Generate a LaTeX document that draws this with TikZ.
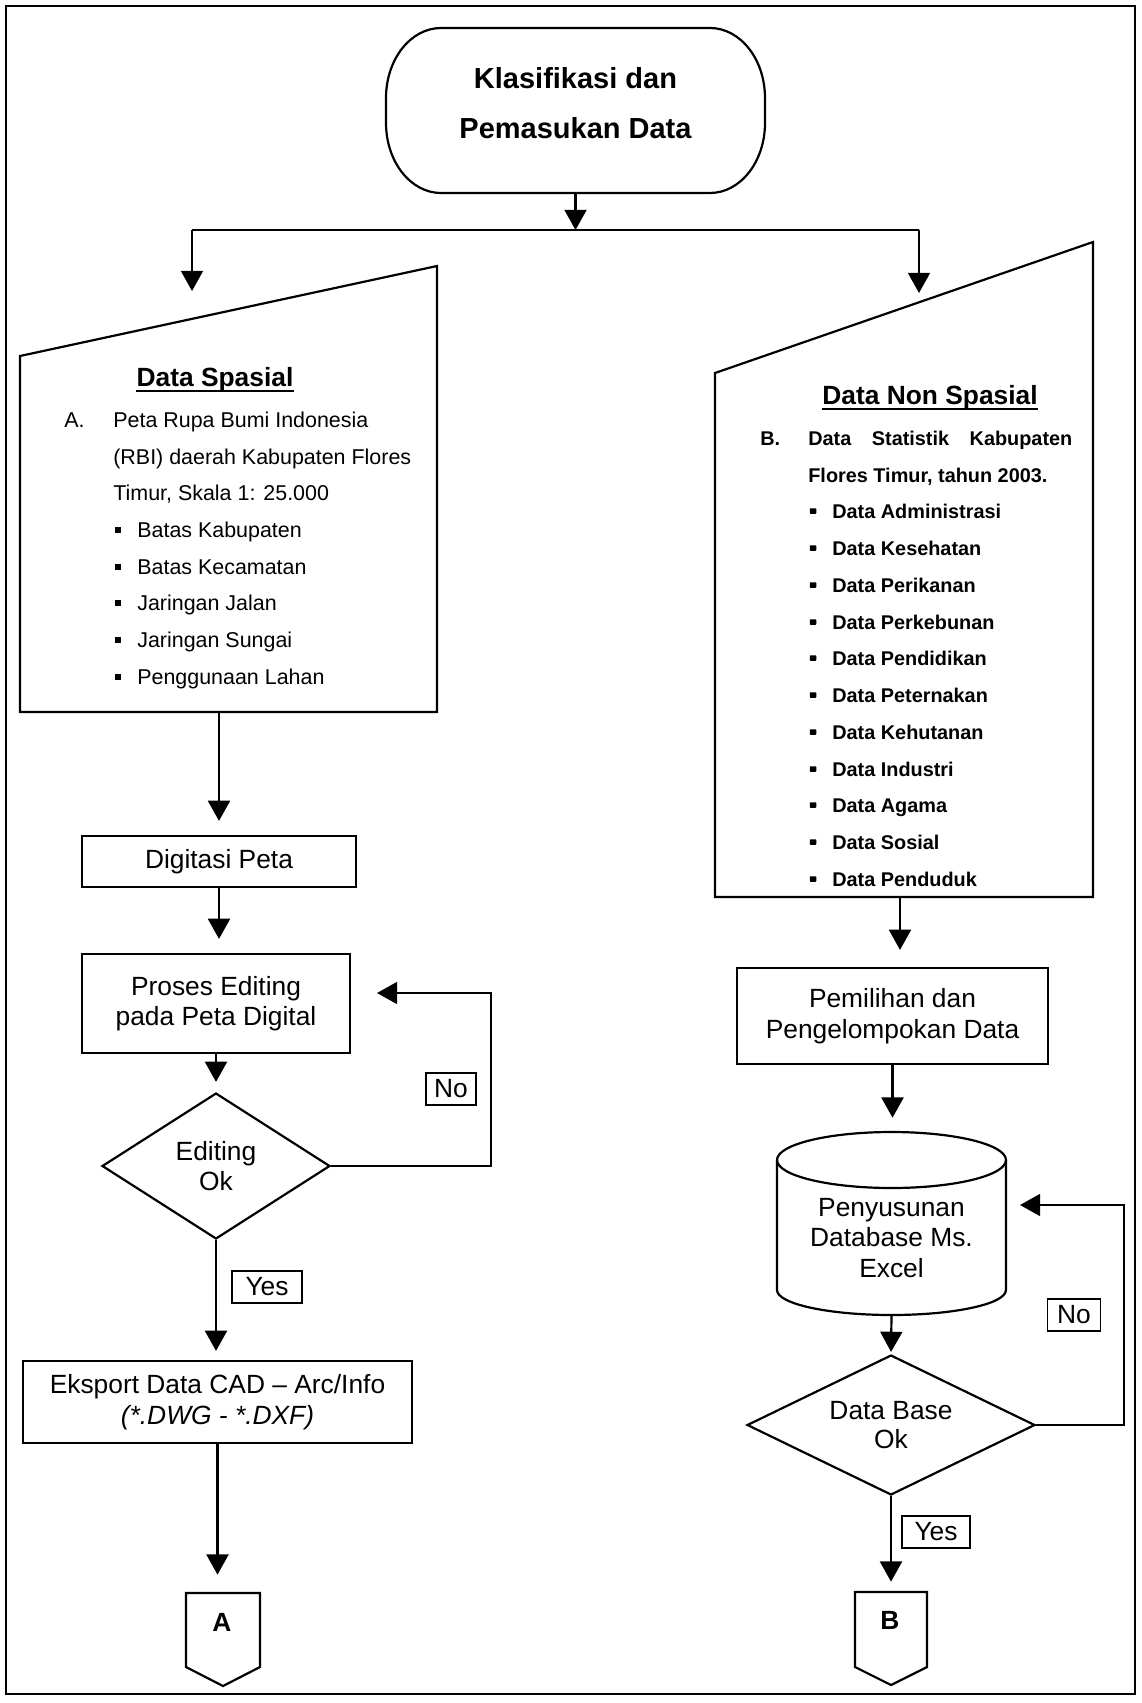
\documentclass[tikz,border=0pt]{standalone}
\usepackage{fontspec}
\setmainfont{Liberation Sans}
\usetikzlibrary{arrows.meta,shapes.geometric,calc}

\begin{document}
\begin{tikzpicture}[x=0.02cm,y=-0.02cm,
  line/.style={line width=1.25pt},
  arr/.style={line width=1.25pt,-{Triangle[length=11.5pt,width=12.5pt]}},
  ghost/.style={rectangle,inner sep=0pt,draw=none},
  box/.style={draw,line width=1.25pt,rectangle,inner sep=0pt,align=center,
    font=\fontsize{15}{17.3}\selectfont},
  decision/.style={draw,line width=1.25pt,diamond,aspect=2,inner sep=0pt,align=center,
    font=\fontsize{15}{17}\selectfont},
  tag/.style={draw,line width=1.1pt,rectangle,inner sep=0pt,minimum height=0.64cm,
    font=\fontsize{15}{17}\selectfont},
  ltxt/.style={inner sep=0pt,anchor=base west,font=\fontsize{12.2}{14}\selectfont},
  rtxt/.style={inner sep=0pt,anchor=base west,font=\bfseries\fontsize{11.3}{13}\selectfont},
  head/.style={inner sep=0pt,anchor=base,font=\bfseries\fontsize{15}{17}\selectfont},
  bul/.style={fill,inner sep=0pt,minimum size=0.12cm},
  rbul/.style={fill,inner sep=0pt,minimum width=0.13cm,minimum height=0.11cm,rounded corners=0.4pt},
  letter/.style={inner sep=0pt,font=\bfseries\fontsize{15}{17}\selectfont},
]
\useasboundingbox (0,0) rectangle (1142,1703);

% page frame
\draw[line width=1.5pt] (6,6) rectangle (1135,1694);

% ---------- start terminal ----------
\node[ghost,minimum width=7.58cm,minimum height=3.3cm] (term) at (575.5,110.5) {};
\draw[line] (441,28) -- (710,28)
  arc[start angle=90,end angle=0,x radius=1.1cm,y radius=1.4cm] -- (765,123)
  arc[start angle=0,end angle=-90,x radius=1.1cm,y radius=1.4cm] -- (441,193)
  arc[start angle=270,end angle=180,x radius=1.1cm,y radius=1.4cm] -- (386,98)
  arc[start angle=180,end angle=90,x radius=1.1cm,y radius=1.4cm] -- cycle;
\node[inner sep=0pt,align=center,font=\bfseries\fontsize{16.5}{28.5}\selectfont]
  (termtxt) at (575.5,103) {Klasifikasi dan\\Pemasukan Data};

% split into the two branches
\coordinate (spL) at (192,230);
\coordinate (spR) at (919,230);
\coordinate (spasIn) at (192,291);
\coordinate (nonIn) at (919,293);
\draw[arr] (term.south) -- (term.south |- spL);
\draw[line] (spL) -- (spR);
\draw[arr] (spL) -- (spasIn);
\draw[arr] (spR) -- (nonIn);

% ---------- spatial data (manual input) ----------
\node[ghost,minimum width=8.34cm,minimum height=8.92cm] (spas) at (228.5,489) {};
\draw[line] (20,356) -- (437,266) -- (437,712) -- (20,712) -- cycle;
\node[head] (spasT) at (215,386.5) {Data Spasial};
\draw[line width=1pt] ([yshift=-2.4pt]spasT.base west) -- ([yshift=-2.4pt]spasT.base east);
\node[ltxt] (la) at (64,427.5) {A.};
\node[ltxt] (l1) at (113,427.5) {Peta Rupa Bumi Indonesia};
\node[ltxt] (l2) at (113,464.5) {(RBI) daerah Kabupaten Flores};
\node[ltxt] (l3) at (113,500.5) {Timur, Skala 1: 25.000};
\foreach \y/\t [count=\i] in {530/Batas Kabupaten,567/Batas Kecamatan,603/Jaringan Jalan,
    640/Jaringan Sungai,677/Penggunaan Lahan}{
  \node[bul] (lb\i) at (118,\y) {};
  \node[ltxt] (li\i) at (137,\y+7.5) {\t};
}

% ---------- non-spatial data (manual input) ----------
\node[ghost,minimum width=7.56cm,minimum height=13.1cm] (non) at (904,569.5) {};
\draw[line] (715,373) -- (1093,242) -- (1093,897) -- (715,897) -- cycle;
\node[head] (nonT) at (930,404.5) {Data Non Spasial};
\draw[line width=1pt] ([yshift=-2.4pt]nonT.base west) -- ([yshift=-2.4pt]nonT.base east);
\node[rtxt] (rb) at (760,445) {B.};
\node[rtxt] (r1) at (808,445) {\makebox[5.28cm][l]{Data\hfill Statistik\hfill Kabupaten}};
\node[rtxt] (r2) at (808,482) {Flores Timur, tahun 2003.};
\foreach \y/\t [count=\i] in {511/Data Administrasi,548/Data Kesehatan,585/Data Perikanan,
    622/Data Perkebunan,658/Data Pendidikan,695/Data Peternakan,732/Data Kehutanan,
    769/Data Industri,805/Data Agama,842/Data Sosial,879/Data Penduduk}{
  \node[rbul] (rbul\i) at (813,\y) {};
  \node[rtxt] (ri\i) at (832,\y+7) {\t};
}

% ---------- left column ----------
\node[box,minimum width=5.48cm,minimum height=1.02cm] (dig) at (219,861.5) {Digitasi Peta};
\node[box,minimum width=5.36cm,minimum height=1.98cm] (pro) at (216,1003.5)
  {Proses Editing\\pada Peta Digital};
\node[decision,minimum width=4.56cm,minimum height=2.92cm] (dia1) at (216,1166)
  {Editing\\Ok};
\node[box,minimum width=7.78cm,minimum height=1.64cm] (eks) at (217.5,1402)
  {Eksport Data CAD -- Arc/Info\\\textit{(*.DWG - *.DXF)}};
\node[ghost,minimum width=1.48cm,minimum height=1.86cm] (offA) at (223,1639.5) {};
\draw[line] (186,1593) -- (260,1593) -- (260,1667) -- (223,1686) -- (186,1667) -- cycle;
\node[letter] (lA) at (222,1622) {A};

\node[tag,minimum width=1cm] (no1) at (451,1089) {No};
\node[tag,minimum width=1.4cm] (yes1) at (267,1287) {Yes};

\draw[arr,shorten >=0.28cm] (dig.north |- spas.south) -- (dig.north);
\draw[arr,shorten >=0.28cm] (dig.south) -- (dig.south |- pro.north);
\draw[arr,shorten >=0.2cm] (pro.south) -- (dia1.north);
\draw[arr,shorten >=0.18cm] (dia1.south) -- (dia1.south |- eks.north);
\draw[arr,shorten >=0.36cm] (eks.south) -- (eks.south |- offA.north);
\coordinate (turn1) at (491,993);
\coordinate (back1) at (377,993);
\draw[arr] (dia1.east) -| (turn1) -- (back1);

% ---------- right column ----------
\node[box,minimum width=6.22cm,minimum height=1.92cm] (pem) at (892.5,1016)
  {Pemilihan dan\\Pengelompokan Data};
\node[ghost,minimum width=4.58cm,minimum height=3.68cm] (cyl) at (891.5,1223) {};
\draw[line] (777,1160) -- (777,1290)
  arc[start angle=180,end angle=360,x radius=2.29cm,y radius=0.5cm] -- (1006,1160);
\draw[line] (891.5,1160) ellipse[x radius=2.29cm,y radius=0.56cm];
\node[inner sep=0pt,align=center,font=\fontsize{15}{17.2}\selectfont] (cyltxt) at (891.5,1238)
  {Penyusunan\\Database Ms.\\Excel};
\node[decision,minimum width=5.76cm,minimum height=2.8cm] (dia2) at (891,1425)
  {Data Base\\Ok};
\node[ghost,minimum width=1.44cm,minimum height=1.86cm] (offB) at (891,1638.5) {};
\draw[line] (855,1592) -- (927,1592) -- (927,1667) -- (891,1685) -- (855,1667) -- cycle;
\node[letter] (lB) at (890,1620) {B};

\node[tag,minimum width=1.06cm] (no2) at (1074,1315) {No};
\node[tag,minimum width=1.36cm] (yes2) at (936,1532) {Yes};

\draw[arr,shorten >=0.34cm] ([xshift=-0.08cm]non.south) -- ([xshift=-0.08cm]non.south |- pem.north);
\draw[arr,shorten >=0.26cm] (pem.south) -- (pem.south |- cyl.north);
\draw[arr,shorten >=0.04cm] (cyl.south) -- (dia2.north);
\draw[arr,shorten >=0.2cm] (dia2.south) -- (offB.north);
\coordinate (turn2) at (1124,1205);
\coordinate (back2) at (1020,1205);
\draw[arr] (dia2.east) -| (turn2) -- (back2);
\end{tikzpicture}
\end{document}
